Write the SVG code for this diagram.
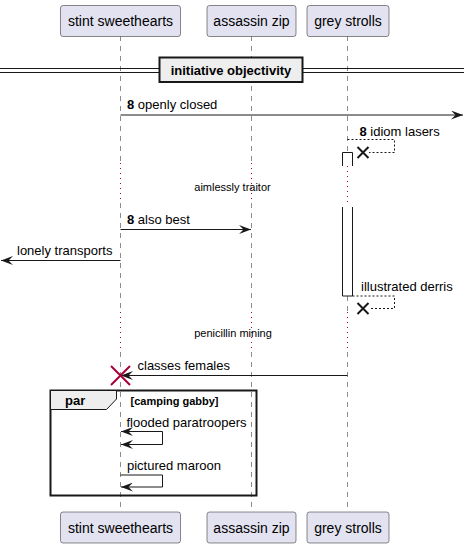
<svg xmlns="http://www.w3.org/2000/svg" width="469" height="548" viewBox="0 0 469 548">
<style>
.pbox{fill:#E2E2F0;stroke:#181818;stroke-width:0.5}
.pt{font-family:"Liberation Sans",Arial,sans-serif;font-size:14px;fill:#000;text-anchor:middle}
.life{stroke:#181818;stroke-width:0.5;stroke-dasharray:5,5;fill:none}
.delay{stroke:#A80036;stroke-width:1;stroke-dasharray:1,4;fill:none}
.msg{stroke:#181818;stroke-width:1;fill:none}
.dmsg{stroke:#181818;stroke-width:1;fill:none;stroke-dasharray:2,2}
.mt{font-family:"Liberation Sans",Arial,sans-serif;font-size:13px;fill:#000}
.b{font-weight:bold}
.dt{font-family:"Liberation Sans",Arial,sans-serif;font-size:11px;fill:#000;text-anchor:middle}
.act{fill:#FFFFFF;stroke:#181818;stroke-width:1}
.xk{stroke:#181818;stroke-width:2;fill:none}
.xd{stroke:#A80036;stroke-width:2;fill:none}
</style>
<defs>
<marker id="ah" viewBox="0 0 12 9" refX="12" refY="4.5" markerWidth="12" markerHeight="9" markerUnits="userSpaceOnUse" orient="auto-start-reverse">
<path d="M0,0 L12,4.5 L0,9 L4.5,4.5 Z" fill="#181818"/>
</marker>
</defs>
<g id="lifelines">
<path class="life" d="M120.5,36 V163 M120.5,203 V312 M120.5,352 V512"/>
<path class="life" d="M251.5,36 V163 M251.5,203 V312 M251.5,352 V512"/>
<path class="life" d="M347.5,36 V152 M347.5,296 V312 M347.5,352 V512"/>
<path class="delay" d="M120.5,163 V203 M251.5,163 V203 M347.5,166 V206 M120.5,312 V352 M251.5,312 V352 M347.5,312 V352"/>
<text class="dt" x="232.5" y="191">aimlessly traitor</text>
<text class="dt" x="233" y="337">penicillin mining</text>
</g>
<g id="activation">
<path class="act" d="M342.5,166 V152.5 H352.5 V166"/>
<path class="act" d="M342.5,207 V296 H352.5 V207"/>
</g>
<g id="divider">
<path d="M0,68.5 H464 M0,72.5 H464" stroke="#181818" stroke-width="1"/>
<rect x="159.5" y="57.5" width="143" height="24.5" fill="#EEEEEE" stroke="#181818" stroke-width="2"/>
<text class="mt b" x="231" y="75" text-anchor="middle">initiative objectivity</text>
</g>
<g id="p-stint-top"><rect class="pbox" x="60.5" y="5.5" width="120" height="31" rx="2.5"/><text class="pt" x="120.5" y="26">stint sweethearts</text></g>
<g id="p-assassin-top"><rect class="pbox" x="207" y="5.5" width="89" height="31" rx="2.5"/><text class="pt" x="251.5" y="26">assassin zip</text></g>
<g id="p-grey-top"><rect class="pbox" x="307" y="5.5" width="82" height="31" rx="2.5"/><text class="pt" x="348" y="26">grey strolls</text></g>
<g id="p-stint-bottom"><rect class="pbox" x="60.5" y="512" width="120" height="31" rx="2.5"/><text class="pt" x="120.5" y="533">stint sweethearts</text></g>
<g id="p-assassin-bottom"><rect class="pbox" x="207" y="512" width="89" height="31" rx="2.5"/><text class="pt" x="251.5" y="533">assassin zip</text></g>
<g id="p-grey-bottom"><rect class="pbox" x="307" y="512" width="82" height="31" rx="2.5"/><text class="pt" x="348" y="533">grey strolls</text></g>
<g id="par-frame">
<rect x="50.5" y="390.5" width="206" height="105" fill="none" stroke="#181818" stroke-width="2"/>
<path d="M50.5,390.5 H116.5 V399 L106.5,409.5 H50.5 Z" fill="#EEEEEE" stroke="#181818" stroke-width="1"/>
<text class="mt b" x="65" y="405">par</text>
<text class="mt b" x="130.5" y="404.5" style="font-size:11px">[camping gabby]</text>
</g>
<g id="connectors">
<line class="msg" x1="120.5" y1="115" x2="463" y2="115" marker-end="url(#ah)"/>
<text class="mt" x="127" y="109"><tspan class="b">8</tspan> openly closed</text>

<path class="dmsg" d="M347.5,139.5 H394.5 V152.5 H369"/>
<path class="xk" d="M357.5,147 L368.5,158 M368.5,147 L357.5,158"/>
<text class="mt" x="359.5" y="136"><tspan class="b">8</tspan> idiom lasers</text>

<line class="msg" x1="120.5" y1="229.5" x2="251" y2="229.5" marker-end="url(#ah)"/>
<text class="mt" x="127" y="224"><tspan class="b">8</tspan> also best</text>

<line class="msg" x1="120.5" y1="260.5" x2="1" y2="260.5" marker-end="url(#ah)"/>
<text class="mt" x="17" y="255">lonely transports</text>

<path class="dmsg" d="M352.5,296 H394.5 V308.5 H369"/>
<path class="xk" d="M357.5,303 L368.5,314 M368.5,303 L357.5,314"/>
<text class="mt" x="361" y="291">illustrated derris</text>

<line class="msg" x1="347.5" y1="375.5" x2="121" y2="375.5" marker-end="url(#ah)"/>
<text class="mt" x="137.5" y="370">classes females</text>
<path class="xd" d="M111,366 L130,385 M130,366 L111,385"/>

<path class="msg" d="M121,431.5 H162.5 V444.5 H121" marker-start="url(#ah)" marker-end="url(#ah)"/>
<text class="mt" x="126.5" y="427">flooded paratroopers</text>

<path class="msg" d="M120.5,475 H162.5 V487 H121" marker-end="url(#ah)"/>
<text class="mt" x="127" y="470">pictured maroon</text>
</g>
</svg>
